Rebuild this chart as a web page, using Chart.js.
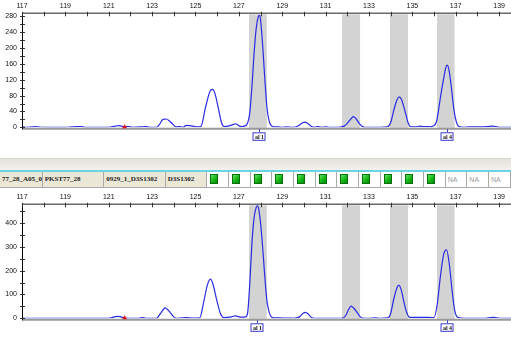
<!DOCTYPE html>
<html>
<head>
<meta charset="utf-8">
<script src="https://cdn.jsdelivr.net/npm/chart.js@4.4.0/dist/chart.umd.min.js"></script>
<style>
  html, body { margin: 0; padding: 0; background: #fff; }
  body { width: 511px; height: 337px; overflow: hidden; position: relative; }
  canvas { position: absolute; left: 0; }
  #topPanel { top: 0; }
  #bottomPanel { top: 190px; }
  #gripBand { position: absolute; left: 0; top: 158px; width: 511px; height: 12px;
    background: linear-gradient(#e4e2dc, #f3f2ee); border-top: 1px solid #d8d6cf; box-sizing: border-box; }
  #cyanRule { position: absolute; left: 0; top: 170px; width: 511px; height: 2px; background: #6cd3e3; }
  #laneRow { position: absolute; left: 0; top: 172px; width: 511px; height: 16px; }
  .cell { position: absolute; top: 0; height: 16px; box-sizing: border-box;
    border-right: 1px solid #a9a9a9; border-bottom: 1px solid #a9a9a9; overflow: hidden; white-space: nowrap; }
  .txt { background: #ebe7d7; font: bold 7px "Liberation Serif", serif; color: #222; line-height: 15px; padding-left: 2px; }
  .call { background: #fff; }
  .call .sq { position: absolute; left: 3px; top: 2px; width: 8px; height: 10px; box-sizing: border-box;
    border: 1px solid #0a6e0a; background: linear-gradient(135deg, #5ee65e, #10b010 60%, #0a8a0a); }
  .call .na { position: absolute; left: 2px; top: 0; font: 7px "Liberation Sans", sans-serif; color: #9a9a9a; line-height: 15px; }
</style>
</head>
<body>
<canvas id="topPanel" width="511" height="148"></canvas>
<div id="gripBand"></div>
<div id="cyanRule"></div>
<div id="laneRow"></div>
<canvas id="bottomPanel" width="511" height="147"></canvas>
<script>
// fragment size range (bp) shown on both panels
const sizeMin = 117;
const sizeMax = 139.55;

// allele bins (bp)
const binStart = [127.47, 131.76, 133.97, 136.14];
const binEnd   = [128.29, 132.59, 134.80, 136.95];

// called alleles
const alleleNames    = ['al 1', 'al 4'];
const topAlleleBp    = [127.94, 136.61];
const bottomAlleleBp = [127.85, 136.58];

// off-scale / marker position
const markerBp = 121.73;

// y axes
const topYMax = 288, topYStep = 20, topYLabelEvery = 40;
const bottomYMax = 478, bottomYStep = 50, bottomYLabelEvery = 100;

// upper trace: size (bp) and signal (RFU)
const topBp  = [117.0, 117.3, 117.5, 117.6, 117.75, 118.0, 118.5, 119.0, 119.3, 119.5, 119.7, 119.9, 120.5, 121.0,
  121.3, 121.45, 121.6, 121.75, 121.9, 122.1, 122.5, 122.7, 122.9, 123.2, 123.35, 123.5, 123.65, 123.8, 123.95, 124.1,
  124.3, 124.4, 124.6, 124.75, 124.9, 125.1, 125.25, 125.47, 125.7, 125.8, 125.9, 126.07, 126.2, 126.32, 126.5, 126.7,
  126.85, 127.0, 127.1, 127.25, 127.4, 127.5, 127.6, 127.7, 127.8, 127.9, 127.95, 128.0, 128.1, 128.2, 128.3, 128.4,
  128.5, 128.6, 128.8, 129.0, 129.2, 129.5, 129.75, 129.9, 130.05, 130.2, 130.35, 130.5, 130.65, 130.8, 131.0, 131.2,
  131.6, 131.85, 132.0, 132.15, 132.28, 132.4, 132.55, 132.7, 132.85, 133.5, 133.85, 134.0, 134.15, 134.3, 134.4,
  134.5, 134.69, 134.8, 134.9, 135.05, 135.2, 135.35, 135.5, 135.65, 135.8, 135.95, 136.1, 136.2, 136.3, 136.45,
  136.55, 136.61, 136.7, 136.8, 136.92, 137.05, 137.15, 137.4, 137.6, 137.9, 138.2, 138.5, 138.7, 138.85, 139.0, 139.55];
const topRfu = [1, 0, 1, 2, 1, 0, 0, 0, 1, 2, 2, 0, 0, 0,
  3, 4, 3, 1, 2, 0, 1, 2, 0, 0, 8, 20, 21, 16, 8, 1,
  2, 0, 5, 4, 3, 1, 2, 52, 94, 96, 85, 44, 12, 2, 3, 6,
  9, 4, 2, 3, 10, 35, 100, 185, 250, 280, 283, 272, 205, 120, 48, 15,
  4, 1, 1, 0, 1, 0, 4, 10, 13, 9, 2, 0, 2, 0, 1, 0,
  0, 3, 10, 20, 27, 22, 10, 2, 0, 0, 1, 12, 44, 70, 77,
  70, 35, 12, 2, 1, 1, 3, 2, 2, 1, 3, 12, 40, 77, 125,
  152, 157, 142, 100, 44, 10, 2, 0, 1, 1, 1, 2, 3, 2, 0, 0];

// lower trace: size (bp) and signal (RFU)
const bottomBp  = [117.0, 118.0, 119.0, 120.0, 121.0, 121.15, 121.3, 121.45, 121.6, 121.75, 122.0, 122.4, 122.55,
  122.7, 123.2, 123.4, 123.6, 123.8, 124.0, 124.1, 124.4, 124.55, 124.7, 125.0, 125.2, 125.38, 125.55, 125.69, 125.8,
  126.0, 126.15, 126.3, 126.6, 126.85, 127.0, 127.15, 127.3, 127.4, 127.5, 127.6, 127.7, 127.8, 127.85, 127.9, 128.0,
  128.1, 128.2, 128.3, 128.4, 128.5, 128.6, 128.8, 129.0, 129.3, 129.5, 129.8, 129.95, 130.07, 130.2, 130.35, 130.5,
  131.0, 131.5, 131.8, 131.95, 132.05, 132.18, 132.3, 132.45, 132.6, 132.7, 133.0, 133.3, 133.5, 133.88, 134.0,
  134.15, 134.3, 134.38, 134.5, 134.61, 134.75, 134.88, 135.0, 135.3, 135.6, 135.9, 136.0, 136.15, 136.3, 136.45,
  136.58, 136.7, 136.84, 136.95, 137.07, 137.25, 137.5, 138.4, 138.6, 138.75, 138.9, 139.1, 139.55];
const bottomRfu = [0, 0, 0, 0, 0, 3, 7, 8, 5, 1, 0, 0, 3,
  0, 0, 22, 44, 28, 6, 0, 2, 3, 2, 1, 2, 69, 140, 164, 145,
  69, 20, 3, 5, 10, 6, 5, 6, 20, 140, 310, 420, 465, 472, 465, 400,
  295, 170, 70, 25, 6, 2, 2, 1, 1, 0, 6, 20, 25, 18, 3, 0,
  0, 0, 1, 15, 35, 51, 42, 25, 6, 1, 0, 2, 0, 2, 20,
  83, 130, 139, 115, 69, 22, 4, 4, 4, 4, 3, 3, 60, 180, 270,
  287, 230, 111, 35, 5, 1, 0, 0, 3, 4, 2, 0, 0];

// lane header row
const laneTexts = ['77_28_A05_01', 'PKST77_28', '0929_1_D3S1302', 'D3S1302'];
const laneTextEdges = [0, 42.7, 104.3, 165.7, 207.3];
const callStates = ['ok', 'ok', 'ok', 'ok', 'ok', 'ok', 'ok', 'ok', 'ok', 'ok', 'ok', 'NA', 'NA', 'NA'];
const callCellWidth = 21.67;

// build lane header row
(function buildRow() {
  const row = document.getElementById('laneRow');
  laneTexts.forEach((t, i) => {
    const d = document.createElement('div');
    d.className = 'cell txt';
    d.style.left = laneTextEdges[i] + 'px';
    d.style.width = (laneTextEdges[i + 1] - laneTextEdges[i]) + 'px';
    d.textContent = t;
    row.appendChild(d);
  });
  callStates.forEach((s, i) => {
    const d = document.createElement('div');
    d.className = 'cell call';
    d.style.left = (laneTextEdges[4] + i * callCellWidth) + 'px';
    d.style.width = callCellWidth + 'px';
    const inner = document.createElement('div');
    if (s === 'NA') { inner.className = 'na'; inner.textContent = 'NA'; }
    else { inner.className = 'sq'; }
    d.appendChild(inner);
    row.appendChild(d);
  });
})();

const tickFont = { family: '"Liberation Sans", Arial, sans-serif', size: 7 };

// bins, baseline, crossing ticks, marker and allele labels
const panelDecor = {
  id: 'panelDecor',
  beforeDatasetsDraw(chart, args, opts) {
    const { ctx, chartArea: a, scales: { x } } = chart;
    ctx.save();
    ctx.fillStyle = '#d3d3d3';
    binStart.forEach((s, i) => {
      const x0 = x.getPixelForValue(s), x1 = x.getPixelForValue(binEnd[i]);
      ctx.fillRect(x0, a.top + 1, x1 - x0, a.bottom - a.top + 1);
    });
    ctx.restore();
  },
  afterDatasetsDraw(chart, args, opts) {
    const { ctx, chartArea: a, scales: { x, y } } = chart;
    ctx.save();
    // baseline
    ctx.strokeStyle = '#9a9a9a';
    ctx.lineWidth = 2;
    ctx.beginPath(); ctx.moveTo(a.left, a.bottom + 1.5); ctx.lineTo(a.right, a.bottom + 1.5); ctx.stroke();
    // top axis line
    ctx.strokeStyle = '#6a6a6a';
    ctx.lineWidth = 1.5;
    ctx.beginPath(); ctx.moveTo(a.left, a.top); ctx.lineTo(a.right, a.top); ctx.stroke();
    // left axis line
    ctx.strokeStyle = '#000';
    ctx.lineWidth = 1;
    ctx.beginPath(); ctx.moveTo(a.left + 0.5, a.top); ctx.lineTo(a.left + 0.5, a.bottom + 2); ctx.stroke();
    // x ticks
    ctx.strokeStyle = '#333';
    x.ticks.forEach(t => {
      const px = Math.round(x.getPixelForValue(t.value)) + 0.5;
      ctx.beginPath(); ctx.moveTo(px, a.top - 1.5); ctx.lineTo(px, a.top + 3); ctx.stroke();
    });
    // y ticks
    y.ticks.forEach(t => {
      const py = Math.round(y.getPixelForValue(t.value)) + 0.5;
      ctx.beginPath(); ctx.moveTo(a.left - 2, py); ctx.lineTo(a.left + 3, py); ctx.stroke();
    });
    // marker
    const mx = x.getPixelForValue(markerBp);
    ctx.fillStyle = '#e01010';
    ctx.beginPath();
    ctx.moveTo(mx - 2.5, a.bottom + 1); ctx.lineTo(mx + 2.5, a.bottom + 1); ctx.lineTo(mx, a.bottom - 3);
    ctx.closePath(); ctx.fill();
    // allele labels
    opts.alleles.forEach((bp, i) => {
      const cx = Math.round(x.getPixelForValue(bp));
      const bx = cx - 6.5, by = a.bottom + 5, bw = 13, bh = 8.5;
      ctx.strokeStyle = '#3a3ad0';
      ctx.lineWidth = 1;
      ctx.beginPath(); ctx.moveTo(cx + 0.5, a.bottom + 2); ctx.lineTo(cx + 0.5, by); ctx.stroke();
      ctx.fillStyle = '#fff';
      ctx.fillRect(bx, by, bw, bh);
      ctx.strokeRect(bx + 0.5, by + 0.5, bw - 1, bh - 1);
      ctx.fillStyle = '#111';
      ctx.font = 'bold 6px "Liberation Serif", serif';
      ctx.textAlign = 'center';
      ctx.textBaseline = 'middle';
      ctx.fillText(alleleNames[i], cx + 0.5, by + bh / 2 + 0.5);
    });
    ctx.restore();
  }
};

function makePanel(id, bp, rfu, yMax, yStep, yLabelEvery, topH, bottomPad, alleles) {
  return new Chart(document.getElementById(id), {
    type: 'scatter',
    data: {
      datasets: [{
        data: bp.map((v, i) => ({ x: v, y: rfu[i] })),
        showLine: true,
        borderColor: '#2a2ae6',
        borderWidth: 1.2,
        pointRadius: 0,
        cubicInterpolationMode: 'monotone',
        fill: false
      }]
    },
    options: {
      responsive: false,
      animation: false,
      devicePixelRatio: 1,
      layout: { padding: { left: 0, right: 0, top: 0, bottom: bottomPad } },
      plugins: { legend: { display: false }, tooltip: { enabled: false }, panelDecor: { alleles } },
      scales: {
        x: {
          type: 'linear', position: 'top', min: sizeMin, max: sizeMax,
          afterFit(s) { s.height = topH; },
          border: { display: false },
          grid: { display: false, drawTicks: false },
          ticks: {
            stepSize: 1, includeBounds: false, autoSkip: false, maxRotation: 0, padding: 3,
            color: '#111', font: tickFont,
            callback: v => (Math.round(v) % 2 === 1 ? String(v) : '')
          }
        },
        y: {
          type: 'linear', position: 'left', min: 0, max: yMax,
          afterFit(s) { s.width = 22; },
          border: { display: false },
          grid: { display: false, drawTicks: false },
          ticks: {
            stepSize: yStep, includeBounds: false, autoSkip: false, padding: 5,
            color: '#111', font: tickFont,
            callback: v => (v % yLabelEvery === 0 ? String(v) : '')
          }
        }
      }
    },
    plugins: [panelDecor]
  });
}

makePanel('topPanel', topBp, topRfu, topYMax, topYStep, topYLabelEvery, 13.3, 20.7, topAlleleBp);
makePanel('bottomPanel', bottomBp, bottomRfu, bottomYMax, bottomYStep, bottomYLabelEvery, 14.3, 18.7, bottomAlleleBp);
</script>
</body>
</html>
